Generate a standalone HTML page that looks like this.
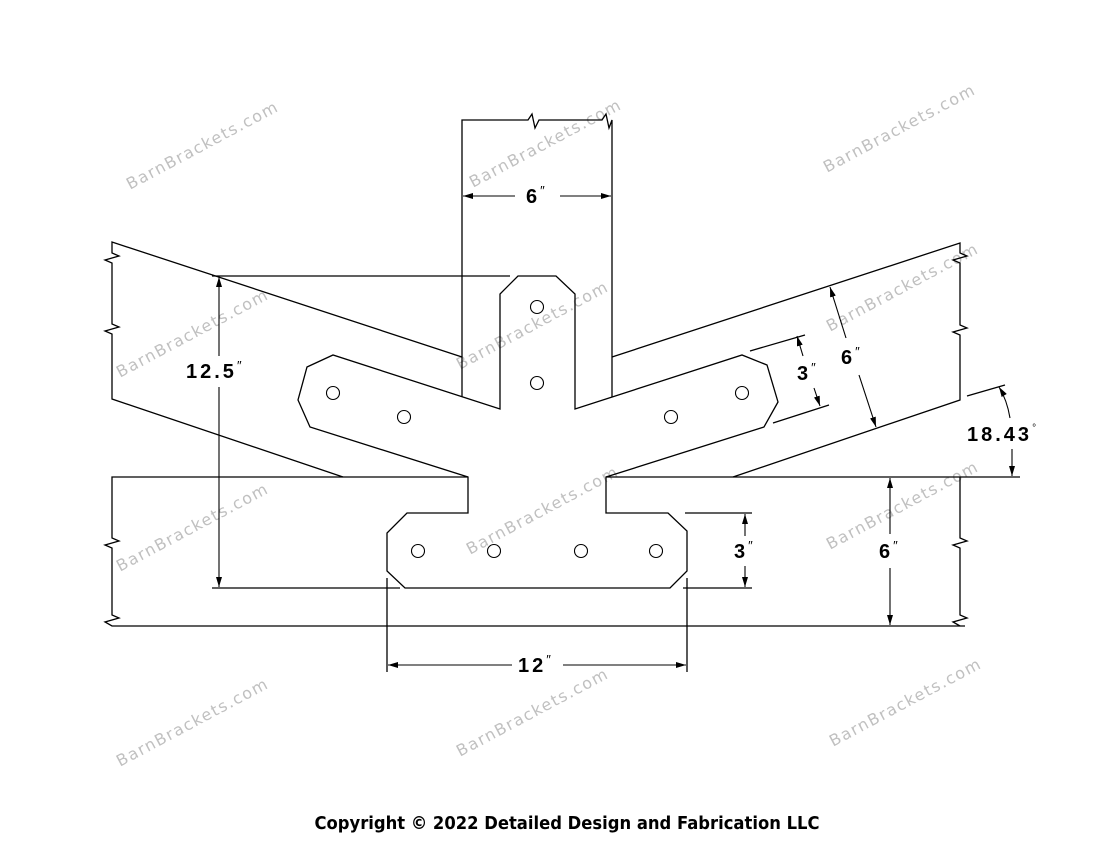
<!DOCTYPE html>
<html><head><meta charset="utf-8"><style>
html,body{margin:0;padding:0;background:#fff;}
svg{display:block;}
.d{font-family:"Liberation Sans",sans-serif;font-weight:bold;font-size:20px;letter-spacing:3px;fill:#000;}
.w{font-family:"DejaVu Sans","Liberation Sans",sans-serif;font-size:16px;letter-spacing:1.5px;fill:#c0c0c0;}
.c{font-family:"DejaVu Sans","Liberation Sans",sans-serif;font-size:18px;font-weight:bold;fill:#000;}
</style></head><body>
<svg width="1100" height="850" viewBox="0 0 1100 850" xmlns="http://www.w3.org/2000/svg">
<defs>
<marker id="a" viewBox="0 0 10 6" refX="10" refY="3" markerWidth="10" markerHeight="6" orient="auto" markerUnits="userSpaceOnUse"><path d="M0,0 L10,3 L0,6 z" fill="#000"/></marker>
</defs>
<g class="w">
<text transform="translate(205,150) rotate(-28)" text-anchor="middle">BarnBrackets.com</text>
<text transform="translate(548,148) rotate(-28)" text-anchor="middle">BarnBrackets.com</text>
<text transform="translate(902,133) rotate(-28)" text-anchor="middle">BarnBrackets.com</text>
<text transform="translate(195,338) rotate(-28)" text-anchor="middle">BarnBrackets.com</text>
<text transform="translate(535,330) rotate(-28)" text-anchor="middle">BarnBrackets.com</text>
<text transform="translate(905,292) rotate(-28)" text-anchor="middle">BarnBrackets.com</text>
<text transform="translate(195,532) rotate(-28)" text-anchor="middle">BarnBrackets.com</text>
<text transform="translate(545,515) rotate(-28)" text-anchor="middle">BarnBrackets.com</text>
<text transform="translate(905,510) rotate(-28)" text-anchor="middle">BarnBrackets.com</text>
<text transform="translate(195,727) rotate(-28)" text-anchor="middle">BarnBrackets.com</text>
<text transform="translate(535,717) rotate(-28)" text-anchor="middle">BarnBrackets.com</text>
<text transform="translate(908,707) rotate(-28)" text-anchor="middle">BarnBrackets.com</text>
</g>
<g fill="none" stroke="#000" stroke-width="1.3">
<path d="M462,397 L462,120 L528,120 L532,114 L535,128 L539,120 L602,120 L606,114 L609,128 L612,120 L612,397"/>
<path d="M462,357 L112,242 L112,253 L119,256 L105,260 L112,263 L112,324 L119,327 L105,331 L112,334 L112,399 L343,477"/>
<path d="M612,357 L960,243 L960,253 L967,256 L953,260 L960,263 L960,325 L967,328 L953,332 L960,335 L960,400 L733,477"/>
<path d="M468,477 L112,477 L112,538 L119,541 L105,545 L112,548 L112,615 L119,618 L105,622 L112,626 L965,626"/>
<path d="M606,477 L1020,477"/>
<path d="M960,477 L960,538 L967,541 L953,545 L960,548 L960,615 L967,618 L953,622 L960,626"/>
<path d="M518,276 L556,276 L575,294 L575,409 L742,355 L767,365 L778,402 L764,427 L606,477 L606,513 L668,513 L687,531 L687,571 L670,588 L405,588 L387,571 L387,533 L407,513 L468,513 L468,477 L310,427 L298,400 L307,367 L333,355 L500,409 L500,294 Z"/>
<g stroke-width="1.1">
<circle cx="537" cy="307" r="6.5"/><circle cx="537" cy="383" r="6.5"/>
<circle cx="333" cy="393" r="6.5"/><circle cx="404" cy="417" r="6.5"/>
<circle cx="742" cy="393" r="6.5"/><circle cx="671" cy="417" r="6.5"/>
<circle cx="418" cy="551" r="6.5"/><circle cx="494" cy="551" r="6.5"/>
<circle cx="581" cy="551" r="6.5"/><circle cx="656" cy="551" r="6.5"/>
</g>
<path d="M212,276 L510,276"/>
<path d="M212,588 L400,588"/>
<path d="M683,588 L752,588"/>
<path d="M685,513 L752,513"/>
<path d="M387,578 L387,672 M687,578 L687,672"/>
<path d="M750,351 L805,335 M773,423 L829,405"/>
<path d="M967,396 L1005,385"/>
</g>
<g fill="none" stroke="#000" stroke-width="1.1">
<line x1="515" y1="196" x2="463" y2="196" marker-end="url(#a)"/>
<line x1="560" y1="196" x2="611" y2="196" marker-end="url(#a)"/>
<line x1="219" y1="356" x2="219" y2="277" marker-end="url(#a)"/>
<line x1="219" y1="387" x2="219" y2="587" marker-end="url(#a)"/>
<line x1="745" y1="536" x2="745" y2="514" marker-end="url(#a)"/>
<line x1="745" y1="566" x2="745" y2="587" marker-end="url(#a)"/>
<line x1="890" y1="534" x2="890" y2="478" marker-end="url(#a)"/>
<line x1="890" y1="568" x2="890" y2="625" marker-end="url(#a)"/>
<line x1="512" y1="665" x2="388" y2="665" marker-end="url(#a)"/>
<line x1="563" y1="665" x2="686" y2="665" marker-end="url(#a)"/>
<line x1="803" y1="356" x2="797" y2="336" marker-end="url(#a)"/>
<line x1="814" y1="388" x2="820" y2="406" marker-end="url(#a)"/>
<line x1="846" y1="338" x2="830" y2="287" marker-end="url(#a)"/>
<line x1="859" y1="375" x2="876" y2="427" marker-end="url(#a)"/>
<path d="M1010,418 Q1007,400 999,387" marker-end="url(#a)"/>
<line x1="1012" y1="449" x2="1012" y2="476" marker-end="url(#a)"/>
</g>
<g class="d">
<text x="526" y="203">6<tspan font-size="13" dy="-8" font-weight="normal">″</tspan></text>
<text x="186" y="378">12.5<tspan font-size="13" dy="-8" font-weight="normal">″</tspan></text>
<text x="734" y="558">3<tspan font-size="13" dy="-8" font-weight="normal">″</tspan></text>
<text x="879" y="558">6<tspan font-size="13" dy="-8" font-weight="normal">″</tspan></text>
<text x="518" y="672">12<tspan font-size="13" dy="-8" font-weight="normal">″</tspan></text>
<text x="797" y="380">3<tspan font-size="13" dy="-8" font-weight="normal">″</tspan></text>
<text x="841" y="364">6<tspan font-size="13" dy="-8" font-weight="normal">″</tspan></text>
<text x="967" y="441">18.43<tspan font-size="10" dy="-10" font-weight="normal">°</tspan></text>
</g>
<text class="c" x="567" y="829" text-anchor="middle" textLength="505" lengthAdjust="spacingAndGlyphs">Copyright © 2022 Detailed Design and Fabrication LLC</text>
</svg>
</body></html>
